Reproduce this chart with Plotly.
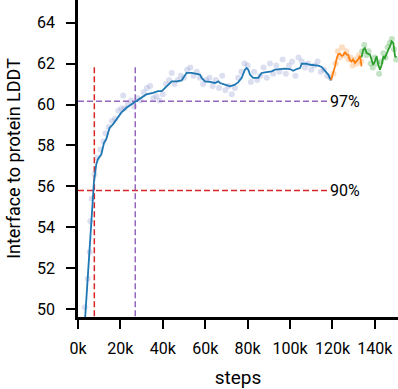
import plotly.graph_objects as go

# ---- data (steps in thousands) ----
blue_x = [3.0, 3.4, 7.1, 7.5, 8.6, 9.4, 11.0, 12.3, 13.3, 14.9, 16.5, 18.1, 20.4, 22.8, 25.1, 27.0,
          29.8, 32.2, 35.4, 37.7, 39.5, 41.0, 43.4, 44.2, 46.5, 48.9, 49.7, 51.2, 53.6, 56.0, 57.5,
          58.3, 59.9, 62.2, 64.6, 66.2, 67.0, 69.3, 71.7, 74.0, 75.6, 77.2, 78.7, 79.5, 80.3, 81.1,
          82.6, 85.0, 86.6, 88.2, 89.7, 91.3, 92.9, 95.2, 97.6, 100.0, 101.5, 103.1, 104.7, 105.5,
          107.8, 109.4, 111.7, 113.3, 114.9, 116.5, 118.0, 119.3]
blue_y = [49.0, 49.63, 55.77, 56.19, 57.08, 57.33, 57.57, 58.14, 58.30, 58.87, 59.03, 59.27, 59.60,
          59.84, 60.0, 60.16, 60.32, 60.49, 60.57, 60.65, 60.65, 60.81, 61.05, 61.13, 61.13, 61.18,
          61.30, 61.54, 61.54, 61.51, 61.46, 61.30, 61.13, 61.10, 61.05, 61.13, 61.05, 60.97, 60.89,
          60.97, 61.09, 61.30, 61.70, 61.78, 61.70, 61.46, 61.30, 61.30, 61.54, 61.57, 61.59, 61.62,
          61.70, 61.73, 61.75, 61.73, 61.65, 61.73, 61.78, 61.99, 61.99, 61.94, 61.90, 61.90, 61.83,
          61.62, 61.46, 61.18]

orange_x = [119.3, 120.4, 121.2, 122.0, 122.7, 123.5, 124.3, 125.1, 125.9, 126.7, 127.4, 128.2,
            129.0, 129.8, 130.6, 131.4, 132.2, 133.0, 133.7]
orange_y = [61.18, 61.54, 61.86, 62.25, 62.45, 62.48, 62.38, 62.40, 62.56, 62.43, 62.43, 62.16,
            62.10, 62.19, 62.03, 62.12, 62.22, 62.38, 61.86]

green_x = [133.7, 134.5, 135.3, 136.1, 137.7, 138.5, 139.2, 140.0, 140.8, 141.6, 142.4, 143.2,
           144.0, 144.7, 145.5, 146.3, 147.1, 147.9, 148.7, 149.5, 150.2]
green_y = [62.30, 62.67, 62.75, 62.51, 62.43, 62.19, 61.94, 62.10, 62.35, 61.94, 61.70, 61.94,
           62.35, 62.27, 62.51, 62.67, 62.83, 63.08, 63.00, 62.35, 62.30]

blue_dot_x = [3.2, 4.6, 5.5, 5.8, 6.5, 7.8, 9.0, 10.5, 12.0, 13.0, 14.5, 16.0, 17.5, 19.0, 20.5,
              21.3, 22.0, 23.5, 25.0, 26.5, 28.0, 29.5, 31.0, 32.5, 34.0, 35.5, 37.0, 38.5, 40.0,
              41.5, 43.0, 44.2, 45.5, 47.0, 48.5, 50.0, 51.5, 53.0, 54.5, 56.0, 57.5, 59.0, 60.5,
              62.0, 63.5, 65.0, 66.5, 68.0, 69.5, 71.0, 72.5, 74.0, 75.5, 77.0, 78.5, 80.0, 81.5,
              83.0, 84.5, 86.0, 87.5, 89.0, 90.5, 92.0, 93.5, 95.0, 96.5, 98.0, 99.5, 101.0, 102.5,
              104.0, 105.5, 107.0, 108.5, 110.0, 111.5, 113.0, 114.5, 116.0, 117.5, 119.0]
blue_dot_y = [50.1, 51.5, 52.8, 54.3, 55.4, 56.6, 57.4, 57.8, 58.2, 58.6, 58.9, 59.2, 59.3, 59.7,
              59.8, 60.44, 59.8, 60.0, 60.2, 59.9, 60.3, 60.2, 60.6, 60.8, 60.9, 60.3, 60.4, 60.2,
              60.5, 61.0, 61.2, 61.54, 61.0, 61.2, 61.4, 61.3, 61.7, 61.8, 61.4, 61.6, 61.3, 61.0,
              61.2, 61.3, 60.9, 61.2, 60.8, 61.4, 60.7, 60.9, 60.5, 60.8, 61.3, 61.6, 62.0, 61.9,
              61.1, 61.6, 61.2, 61.4, 61.8, 61.3, 62.0, 61.5, 61.9, 61.6, 62.2, 61.5, 61.9, 62.1,
              61.4, 62.3, 62.1, 61.8, 62.0, 61.7, 61.9, 62.1, 61.6, 61.7, 61.4, 61.3]

orange_dot_x = [120.5, 121.5, 122.5, 123.5, 124.5, 125.5, 126.5, 127.5, 128.5, 129.5, 130.5,
                131.5, 132.5, 133.5]
orange_dot_y = [61.5, 62.0, 62.6, 62.3, 62.8, 62.4, 62.6, 62.2, 62.3, 61.9, 62.2, 62.0, 62.4, 62.1]

green_dot_x = [134, 135, 136, 137, 138, 139, 140, 141, 142, 143, 144, 145, 146, 147, 148, 149, 150]
green_dot_y = [62.6, 62.9, 62.4, 62.6, 62.0, 61.8, 62.3, 62.0, 61.5, 62.1, 62.5, 62.3, 62.8, 63.0,
               63.2, 62.7, 62.2]

# reference thresholds
thr_labels = ["90%", "97%"]
thr_values = [55.8, 60.16]
thr_steps = [7.7, 27.0]
thr_colors = ["#d62728", "#9467bd"]
thr_line_end = 118.3
thr_vline_top = 61.9

x_ticks = [0, 20, 40, 60, 80, 100, 120, 140]
y_ticks = [50, 52, 54, 56, 58, 60, 62, 64]

FONT = "Roboto"

fig = go.Figure()

for dx, dy, c in [(blue_dot_x, blue_dot_y, "rgba(140,150,205,0.3)"),
                  (orange_dot_x, orange_dot_y, "rgba(255,150,60,0.3)"),
                  (green_dot_x, green_dot_y, "rgba(60,160,60,0.3)")]:
    fig.add_trace(go.Scatter(x=dx, y=dy, mode="markers",
                             marker=dict(size=6, color=c, line=dict(width=0)),
                             hoverinfo="skip", showlegend=False))

for lbl, v, s, c in zip(thr_labels, thr_values, thr_steps, thr_colors):
    fig.add_trace(go.Scatter(x=[0, thr_line_end], y=[v, v], mode="lines",
                             line=dict(color=c, width=1.5, dash="6px,3px"), showlegend=False))
    fig.add_trace(go.Scatter(x=[s, s], y=[40, thr_vline_top], mode="lines",
                             line=dict(color=c, width=1.5, dash="6px,3px"), showlegend=False))
    fig.add_annotation(x=thr_line_end, y=v, xref="x", yref="y", text=lbl, showarrow=False,
                       xanchor="left", yanchor="middle", xshift=-1,
                       font=dict(family=FONT, size=16, color="black"))

for lx, ly, c in [(blue_x, blue_y, "#1f77b4"), (orange_x, orange_y, "#ff7f0e"),
                  (green_x, green_y, "#2ca02c")]:
    fig.add_trace(go.Scatter(x=lx, y=ly, mode="lines", line=dict(color=c, width=1.8),
                             showlegend=False))

fig.update_layout(
    width=398, height=389,
    margin=dict(l=78, r=0, t=0, b=72),
    plot_bgcolor="white", paper_bgcolor="white",
    font=dict(family=FONT, size=16, color="black"),
    xaxis=dict(range=[0, 150.9], tickvals=x_ticks, ticktext=[f"{t}k" for t in x_ticks],
               showline=True, linecolor="black", linewidth=2.5, ticks="outside", ticklen=9,
               tickwidth=2, tickcolor="black", showgrid=False, zeroline=False,
               ticklabelstandoff=6, automargin=False,
               title=dict(text="steps", font=dict(size=19), standoff=15)),
    yaxis=dict(range=[49.63, 65.1], tickvals=y_ticks, showline=True, linecolor="black",
               linewidth=2.5, ticks="outside", ticklen=9, tickwidth=2, tickcolor="black",
               showgrid=False, zeroline=False, ticklabelstandoff=8, automargin=False,
               title=dict(text="Interface to protein LDDT", font=dict(size=18), standoff=12)),
)

fig.write_html("out.html", post_script="document.body.style.margin='0px';",
               config={"displayModeBar": False})
